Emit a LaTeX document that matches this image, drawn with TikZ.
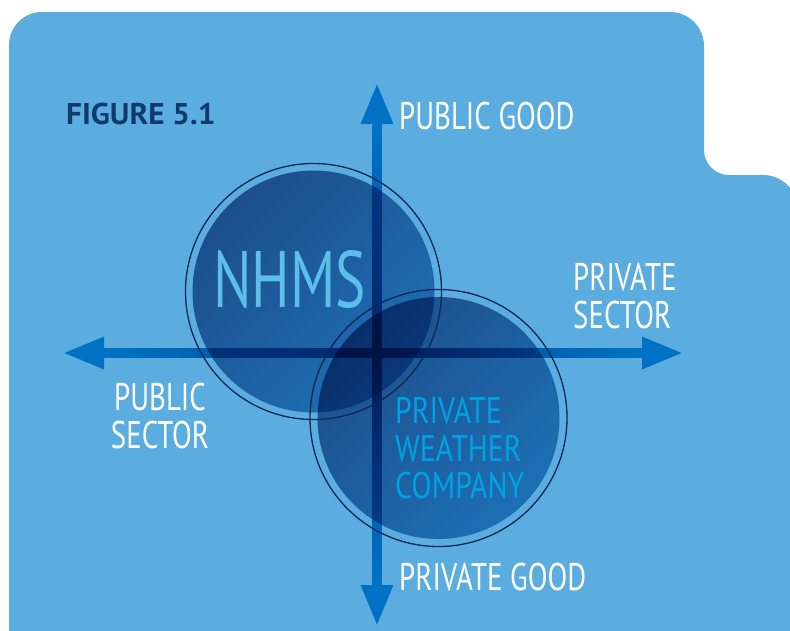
\documentclass[tikz,border=0pt]{standalone}
\usepackage{fontspec}
\setmainfont{PT Sans}
\newfontfamily\condfont{PT Sans}[FakeStretch=0.75]
\newfontfamily\nhmsfont{PT Sans}[FakeStretch=0.715]
\newfontfamily\pwcfont{PT Sans}[FakeStretch=0.805]
\newfontfamily\figfont{PT Sans Bold}[FakeStretch=1.04]
\usetikzlibrary{arrows.meta}
\definecolor{bgblue}{RGB}{91,173,224}
\definecolor{arrowblue}{RGB}{0,114,198}
\definecolor{arrowdark}{RGB}{0,66,140}
\definecolor{circtl}{RGB}{81,116,159}
\definecolor{circbr}{RGB}{84,165,206}
\definecolor{ringcol}{RGB}{12,40,85}
\definecolor{figcol}{RGB}{16,58,110}
\definecolor{nhmscol}{RGB}{91,190,235}
\definecolor{pwccol}{RGB}{0,163,226}
\begin{document}
\begin{tikzpicture}[x=1pt,y=-1pt,
  lbl/.style={inner sep=0pt, text=white, font=\condfont\fontsize{38.5}{38}\selectfont, anchor=north west},
  axis/.style={draw=arrowblue, line width=9pt, {Triangle[width=30pt,length=41pt]}-{Triangle[width=30pt,length=41pt]}},
  venn/.style={blend mode=multiply, top color=circtl, bottom color=circbr, shading angle=45},
  ring/.style={draw=ringcol, line width=1.3pt}]
\useasboundingbox (0,0) rectangle (790,630);
\clip (0,0) rectangle (790,630);
\fill[white] (0,0) rectangle (790,630);
% background card
\fill[bgblue] (9,700) -- (9,45) arc[start angle=180,end angle=270,radius=33]
  -- (670,12) arc[start angle=270,end angle=360,radius=34]
  -- (704,150) arc[start angle=180,end angle=90,radius=25]
  -- (763,175) arc[start angle=270,end angle=360,radius=35]
  -- (798,700) -- cycle;
% axes
\coordinate (left) at (63,353);
\coordinate (right) at (683,353);
\coordinate (top) at (377,83);
\coordinate (bottom) at (377,626);
\draw[axis] (left) -- (right);
\draw[axis] (top) -- (bottom);
\shade[left color=arrowblue, right color=arrowblue, middle color=arrowdark] (104,348.5) rectangle (642,357.5);
\shade[top color=arrowblue, bottom color=arrowblue, middle color=arrowdark] (372.5,124) rectangle (381.5,585);
% circles
\shade[venn] (313.5,291.5) circle[radius=121];
\shade[venn] (438.5,418) circle[radius=121];
\draw[ring] (313.5,291.5) circle[radius=128];
\draw[ring] (438.5,418) circle[radius=128.5];
% texts
\node[anchor=north west, inner sep=0pt, text=figcol, font=\figfont\fontsize{30}{30}\selectfont] (fig) at (66,103) {FIGURE 5.1};
\node[lbl] (pubgood) at (399,102) {PUBLIC GOOD};
\node[lbl] (privgood) at (399,563) {PRIVATE GOOD};
\node[lbl, align=left] (privsec) at (573,263) {PRIVATE\\SECTOR};
\node[lbl, anchor=north, align=center] (pubsec) at (160,383) {PUBLIC\\SECTOR};
\node[lbl, text=nhmscol, font=\nhmsfont\fontsize{80}{80}\selectfont] (nhms) at (213,250) {NHMS};
\node[lbl, text=pwccol, align=left, font=\pwcfont\fontsize{37}{37.5}\selectfont] (pwc) at (395,397) {PRIVATE\\WEATHER\\COMPANY};
\end{tikzpicture}
\end{document}
